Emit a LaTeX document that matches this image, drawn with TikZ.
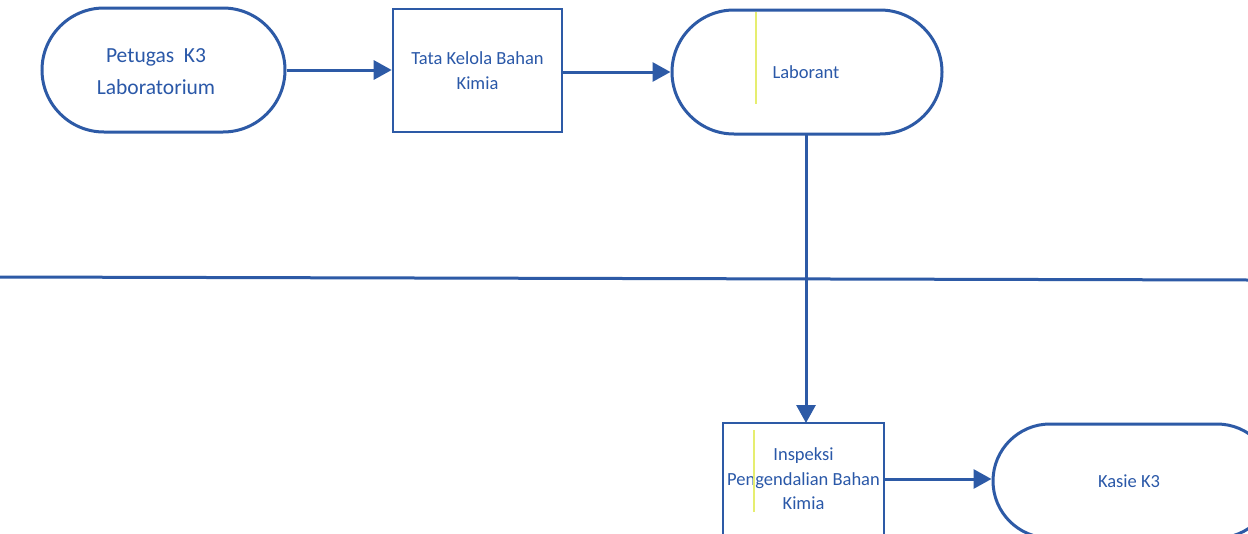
\documentclass[tikz,border=0pt]{standalone}
\usepackage{fontspec}
\setmainfont{Carlito}
\usetikzlibrary{arrows.meta}
\definecolor{lineblue}{HTML}{2D5AA6}
\definecolor{textblue}{HTML}{2A58A8}
\definecolor{yel}{HTML}{E6EE70}
\tikzset{
  base/.style={draw=lineblue, line width=3pt, fill=white, text=textblue, align=center, inner sep=0pt},
  stadium/.style={base, rounded corners=#1},
  boxnode/.style={base, line width=2.6pt},
  conn/.style={draw=lineblue, line width=3pt, -{Triangle[length=18pt,width=19pt]}},
  small/.style={font=\fontsize{18.5}{24.5}\selectfont},
  big/.style={font=\fontsize{21.5}{32}\selectfont},
  plain/.style={text=textblue, align=center, inner sep=0pt}
}
\begin{document}
\begin{tikzpicture}[x=1pt,y=-1pt]
\useasboundingbox (0,0) rectangle (1248,533);
\clip (0,0) rectangle (1248,533);
\fill[white] (0,0) rectangle (1248,533);
% swimlane divider
\draw[lineblue, line width=3pt] (0,277) -- (1248,280);
\node[stadium=62pt, minimum width=243pt, minimum height=124pt] (pet) at (163.5,70) {};
\node[plain, big] (pettext) at (156,72) {Petugas~~K3\\Laboratorium};
\node[boxnode, small, minimum width=169pt, minimum height=123pt] (tata) at (477.5,70.5) {Tata Kelola Bahan\\Kimia};
\node[stadium=62pt, minimum width=270pt, minimum height=124pt] (lab) at (807,72) {};
\node[plain, small] (labtext) at (806,72) {Laborant};
\node[boxnode, small, minimum width=161pt, minimum height=112pt] (insp) at (803.5,479) {Inspeksi\\Pengendalian Bahan\\Kimia};
\node[stadium=57pt, minimum width=281pt, minimum height=114pt] (kasie) at (1133.5,481) {};
\node[plain, small] (kasietext) at (1129,481) {Kasie K3};
% yellow marks
\draw[yel, line width=1.5pt] (756,12) -- (756,104);
\draw[yel, line width=1.5pt] (754,430) -- (754,512);
% connectors
\draw[conn] (pet.east) -- (tata.west |- pet.east);
\draw[conn] (tata.east |- lab.west) -- (lab.west);
\draw[conn] (806,134) -- (806,423);
\draw[conn] (insp.east) -- (kasie.west |- insp.east);
\end{tikzpicture}
\end{document}
